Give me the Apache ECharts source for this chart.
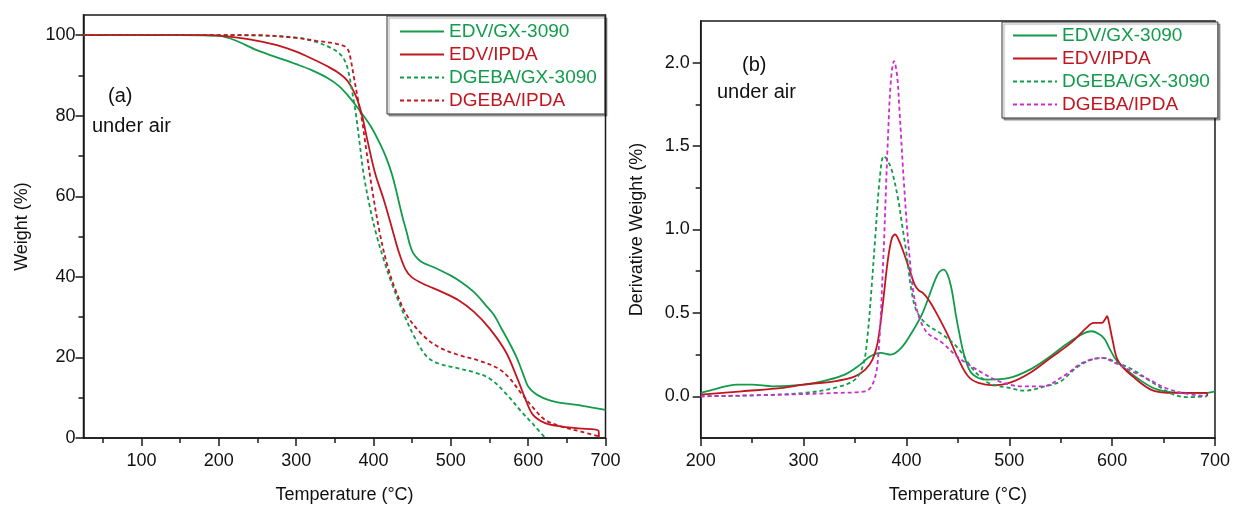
<!DOCTYPE html>
<html lang="en">
  <head>
    <meta charset="UTF-8" />
    <title>TGA / DTG under air</title>
    <script src="https://cdn.jsdelivr.net/npm/echarts@6/dist/echarts.min.js"></script>
    <style>
      html, body { margin: 0; padding: 0; background: #fff; }
    </style>
  </head>
  <body>
    <div id="main" style="width: 1233px; height: 509px"></div>
  </body>
</html>
<script>
  // series names and tick values
  const seriesNames = ['EDV/GX-3090', 'EDV/IPDA', 'DGEBA/GX-3090', 'DGEBA/IPDA']
  const tgaXTicks = [100, 200, 300, 400, 500, 600, 700]
  const tgaXMinor = [50, 150, 250, 350, 450, 550, 650]
  const tgaYTicks = [0, 20, 40, 60, 80, 100]
  const tgaYMinor = [10, 30, 50, 70, 90]
  const dtgXTicks = [200, 300, 400, 500, 600, 700]
  const dtgXMinor = [250, 350, 450, 550, 650]
  const dtgYTicks = [0, 0.5, 1.0, 1.5, 2.0]
  const dtgYMinor = [0.25, 0.75, 1.25, 1.75]

  // (a) weight (%) vs temperature
  const tgaEdvGx = [
    [25, 100], [150, 100], [200, 99.8], [220, 98.8], [250, 96.2], [275, 94.5], [300, 92.8],
    [320, 91.3], [341, 89.3], [355, 87.4], [367, 85], [377, 82.6], [387, 80], [397, 77.2],
    [408, 73.2], [416, 69.8], [423, 66], [428, 62.5], [433, 58.4], [438, 54.5], [443, 51],
    [447, 48], [451, 46], [457, 44.5], [464, 43.5], [480, 42.2], [500, 40.3], [515, 38.5],
    [530, 36.2], [545, 33], [556, 30.5], [566, 27], [576, 23.5], [586, 19.6], [594, 15.6],
    [600, 12.8], [610, 10.9], [620, 9.9], [630, 9.2], [640, 8.8], [655, 8.4], [670, 8],
    [685, 7.5], [700, 7]
  ]
  const tgaEdvIpda = [
    [25, 100], [180, 100], [200, 99.9], [224, 99.4], [250, 98.6], [275, 97.5], [300, 95.9],
    [320, 94.2], [341, 92.2], [355, 90.6], [367, 88.5], [377, 85], [385, 80.2], [392, 74],
    [402, 65.8], [413, 59.3], [423, 52.7], [433, 46], [441, 42], [449, 40], [464, 38.3],
    [489, 36.2], [510, 34.2], [530, 31.3], [550, 27.2], [571, 21.4], [586, 14.8],
    [596, 9.9], [606, 5.8], [622, 3.7], [642, 2.9], [665, 2.4], [691, 1.8], [691.5, 0]
  ]
  const tgaDgebaGx = [
    [25, 100], [200, 100], [250, 99.9], [300, 99.4], [326, 98.3], [345, 96.8], [355, 95.6],
    [362, 94], [367, 91.4], [372, 86.4], [377, 80.7], [382, 73.3], [387, 65.8], [395, 57.6],
    [403, 51], [413, 44.4], [423, 38.7], [438, 31.3], [454, 24.7], [469, 20.2], [484, 18.5],
    [505, 17.5], [530, 16.3], [550, 14.8], [571, 11.1], [591, 6.6], [607, 3.3], [622, 0]
  ]
  const tgaDgebaIpda = [
    [25, 100], [250, 100], [300, 99.3], [326, 98.6], [351, 97.9], [362, 97.3], [367, 96.4],
    [370, 94.5], [374.5, 89.7], [380, 84], [385, 79], [390, 72.4], [397.5, 62.6], [408, 51],
    [418, 42.8], [428, 37], [443, 30.5], [464, 25.5], [484, 22.6], [510, 20.6], [535, 19.3],
    [561, 17.3], [576, 14.8], [591, 11.1], [607, 7.4], [622, 4.5], [642, 2.9], [668, 1.6],
    [691, 0.4]
  ]

  // (b) derivative weight (%) vs temperature
  const dtgEdvGx = [
    [200, 0.02], [215, 0.045], [235, 0.07], [250, 0.07], [270, 0.06], [300, 0.07], [320, 0.093],
    [340, 0.13], [355, 0.19], [365, 0.24], [375, 0.26], [385, 0.25], [395, 0.29], [405, 0.38],
    [415, 0.49], [422, 0.6], [428, 0.7], [432, 0.745], [436, 0.76], [440, 0.73], [444, 0.64],
    [448, 0.49], [452, 0.36], [456, 0.25], [462, 0.15], [470, 0.11], [480, 0.1], [500, 0.11],
    [520, 0.16], [540, 0.24], [555, 0.31], [570, 0.37], [580, 0.39], [588, 0.37], [593, 0.34],
    [598, 0.28], [605, 0.21], [620, 0.13], [640, 0.05], [660, 0.024], [690, 0.02], [700, 0.03]
  ]
  const dtgEdvIpda = [
    [200, 0.01], [240, 0.03], [280, 0.05], [300, 0.07], [330, 0.09], [350, 0.12], [360, 0.16],
    [367, 0.22], [372, 0.32], [377, 0.55], [382, 0.82], [386, 0.95], [389, 0.97], [393, 0.93],
    [398, 0.85], [403, 0.76], [408, 0.67], [412, 0.635], [416, 0.62], [422, 0.575], [430, 0.49],
    [440, 0.37], [450, 0.23], [460, 0.12], [470, 0.08], [485, 0.066], [500, 0.08], [520, 0.14],
    [540, 0.23], [560, 0.32], [575, 0.41], [582, 0.44], [590, 0.44], [593, 0.46], [595, 0.48],
    [597, 0.44], [600, 0.35], [606, 0.21], [620, 0.12], [640, 0.034], [660, 0.02], [692, 0.02],
    [692.5, 0]
  ]
  const dtgDgebaGx = [
    [200, 0], [250, 0.005], [300, 0.02], [330, 0.05], [350, 0.1], [358, 0.19], [362, 0.35],
    [366, 0.64], [370, 0.98], [374, 1.3], [378, 1.44], [382, 1.41], [386, 1.35], [392, 1.18],
    [396, 1.02], [400, 0.86], [405, 0.63], [410, 0.51], [420, 0.43], [435, 0.37], [450, 0.29],
    [465, 0.16], [480, 0.08], [500, 0.05], [515, 0.034], [535, 0.06], [550, 0.09], [565, 0.17],
    [580, 0.22], [592, 0.23], [605, 0.2], [620, 0.16], [640, 0.08], [660, 0.01], [675, -0.005],
    [692, 0]
  ]
  const dtgDgebaIpda = [
    [200, 0], [280, 0.01], [330, 0.02], [360, 0.03], [367, 0.07], [372, 0.2], [377, 0.75],
    [382, 1.54], [385, 1.9], [388, 2.01], [391, 1.92], [393, 1.74], [398, 1.24], [403, 0.84],
    [409, 0.55], [419, 0.39], [435, 0.32], [451, 0.23], [474, 0.14], [490, 0.09], [512, 0.06],
    [532, 0.06], [555, 0.13], [571, 0.2], [590, 0.23], [603, 0.2], [619, 0.15], [636, 0.1],
    [652, 0.05], [668, 0.02], [692, 0]
  ]

  const GREEN = '#129b4b'
  const RED = '#c1161f'
  const MAGENTA = '#cc2ccc'
  const FONT = 'Liberation Sans, Arial, sans-serif'
  const AXIS = '#1a1a1a'

  const chartInstance = echarts.init(document.getElementById('main'))

  function mainX(grid, min, max, ticks, name, gap) {
    return {
      type: 'value', gridIndex: grid, min: min, max: max, position: 'bottom',
      name: name, nameLocation: 'middle', nameGap: gap,
      nameTextStyle: { fontFamily: FONT, fontSize: 18, color: '#111' },
      axisLine: { show: true, onZero: false, lineStyle: { color: AXIS, width: 1.5 } },
      axisTick: { show: true, inside: false, length: 8, customValues: ticks, lineStyle: { color: AXIS, width: 1.5 } },
      axisLabel: { customValues: ticks, margin: 14, fontFamily: FONT, fontSize: 18, color: '#111' },
      splitLine: { show: false }
    }
  }
  function minorX(grid, min, max, ticks) {
    return {
      type: 'value', gridIndex: grid, min: min, max: max, position: 'bottom',
      axisLine: { show: false, onZero: false },
      axisTick: { show: true, length: 5, customValues: ticks, lineStyle: { color: AXIS, width: 1.5 } },
      axisLabel: { show: false }, splitLine: { show: false }
    }
  }
  function mainY(grid, min, max, ticks, name, gap, margin, fmt) {
    return {
      type: 'value', gridIndex: grid, min: min, max: max, position: 'left',
      name: name, nameLocation: 'middle', nameGap: gap,
      nameTextStyle: { fontFamily: FONT, fontSize: 18, color: '#111' },
      axisLine: { show: true, onZero: false, lineStyle: { color: AXIS, width: 1.5 } },
      axisTick: { show: true, length: 8, customValues: ticks, lineStyle: { color: AXIS, width: 1.5 } },
      axisLabel: { customValues: ticks, margin: margin, fontFamily: FONT, fontSize: 18, color: '#111', formatter: fmt },
      splitLine: { show: false }
    }
  }
  function minorY(grid, min, max, ticks) {
    return {
      type: 'value', gridIndex: grid, min: min, max: max, position: 'left',
      axisLine: { show: false, onZero: false },
      axisTick: { show: true, length: 5, customValues: ticks, lineStyle: { color: AXIS, width: 1.5 } },
      axisLabel: { show: false }, splitLine: { show: false }
    }
  }

  function line(name, data, color, dashed, xi, yi) {
    return {
      name: name, type: 'line', xAxisIndex: xi, yAxisIndex: yi, data: data,
      symbol: 'none', smooth: 0.35,
      lineStyle: { color: color, width: 1.8, type: dashed ? [4, 3] : 'solid' },
      itemStyle: { color: color },
      emphasis: { disabled: true }
    }
  }

  // right panel series get a "b:" prefix so the two legends stay separate
  const legendText = [GREEN, RED, GREEN, RED]
  function legend(prefix, left, top, padding) {
    return {
      orient: 'vertical', left: left, top: top, padding: padding,
      itemWidth: 44, itemHeight: 14, itemGap: 4,
      backgroundColor: '#fff', borderColor: '#333', borderWidth: 1,
      shadowColor: 'rgba(0,0,0,0.35)', shadowOffsetX: 2, shadowOffsetY: 2, shadowBlur: 1,
      selectedMode: false,
      // hide the symbol drawn in the middle of the legend line
      itemStyle: { color: 'rgba(0,0,0,0)', borderColor: 'rgba(0,0,0,0)', borderWidth: 0, opacity: 0 },
      formatter: (n) => n.replace('b:', ''),
      textStyle: { fontFamily: FONT, fontSize: 19 },
      data: seriesNames.map((n, i) => ({ name: prefix + n, textStyle: { color: legendText[i] } }))
    }
  }

  const option = {
    animation: false,
    backgroundColor: '#fff',
    grid: [
      { left: 83.5, top: 15, width: 522, height: 425, show: true, borderColor: AXIS, borderWidth: 1.5 },
      { left: 700.7, top: 21, width: 515.6, height: 419.5, show: true, borderColor: AXIS, borderWidth: 1.5 }
    ],
    xAxis: [
      mainX(0, 25, 700, tgaXTicks, 'Temperature (°C)', 48),
      minorX(0, 25, 700, tgaXMinor),
      mainX(1, 200, 700, dtgXTicks, 'Temperature (°C)', 48),
      minorX(1, 200, 700, dtgXMinor)
    ],
    yAxis: [
      mainY(0, 0, 105, tgaYTicks, 'Weight (%)', 52, 8, (v) => v),
      minorY(0, 0, 105, tgaYMinor),
      mainY(1, -0.25, 2.25, dtgYTicks, 'Derivative Weight (%)', 55, 11, (v) => v.toFixed(1)),
      minorY(1, -0.25, 2.25, dtgYMinor)
    ],
    legend: [
      legend('', 387, 16, [6, 8, 4, 12]),
      legend('b:', 1002, 22, [4, 8, 4, 10])
    ],
    graphic: [
      { type: 'text', left: 108, top: 86, style: { text: '(a)', font: '20px ' + FONT, fill: '#111' } },
      { type: 'text', left: 92, top: 116, style: { text: 'under air', font: '20px ' + FONT, fill: '#111' } },
      { type: 'text', left: 742, top: 55, style: { text: '(b)', font: '20px ' + FONT, fill: '#111' } },
      { type: 'text', left: 717, top: 82, style: { text: 'under air', font: '20px ' + FONT, fill: '#111' } }
    ],
    series: [
      line(seriesNames[0], tgaEdvGx, GREEN, false, 0, 0),
      line(seriesNames[1], tgaEdvIpda, RED, false, 0, 0),
      line(seriesNames[2], tgaDgebaGx, GREEN, true, 0, 0),
      line(seriesNames[3], tgaDgebaIpda, RED, true, 0, 0),
      line('b:' + seriesNames[0], dtgEdvGx, GREEN, false, 2, 2),
      line('b:' + seriesNames[1], dtgEdvIpda, RED, false, 2, 2),
      line('b:' + seriesNames[2], dtgDgebaGx, GREEN, true, 2, 2),
      line('b:' + seriesNames[3], dtgDgebaIpda, MAGENTA, true, 2, 2)
    ]
  }

  chartInstance.setOption(option)

  window.addEventListener('resize', () => {
    chartInstance.resize()
  })
</script>
